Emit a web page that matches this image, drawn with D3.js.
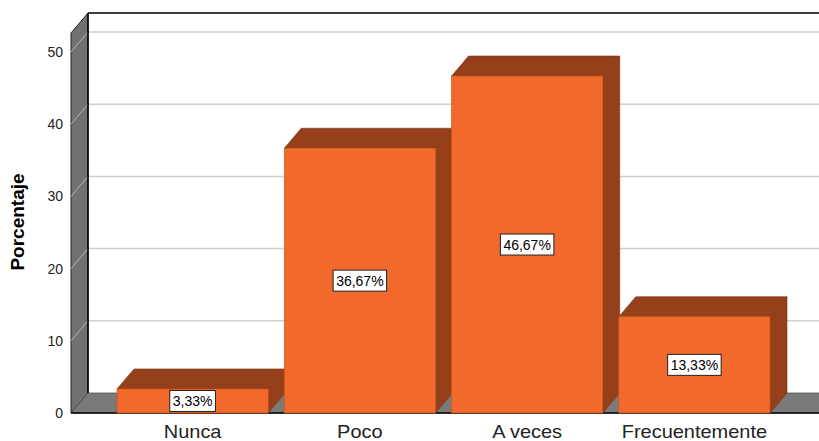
<!DOCTYPE html>
<html>
<head>
<meta charset="utf-8">
<script src="https://cdn.jsdelivr.net/npm/d3@7"></script>
<style>
  html, body { margin: 0; padding: 0; background: #fff; }
  svg { display: block; font-family: "Liberation Sans", Arial, sans-serif; }
</style>
</head>
<body>
<svg id="chart" width="819" height="441"></svg>
<script>
// Frequency distribution (percent of responses)
const categories = ["Nunca", "Poco", "A veces", "Frecuentemente"];
const values = [3.33, 36.67, 46.67, 13.33];
const valueLabels = ["3,33%", "36,67%", "46,67%", "13,33%"];
const yTicks = [0, 10, 20, 30, 40, 50];
const yTitle = "Porcentaje";

const svg = d3.select("#chart");

// 3D depth offset of the plot box and bars
const DX = 17, DY = 20;
const left = 71, right = 819;
const y = d3.scaleLinear().domain([0, 50]).range([413, 52]);
const yTop = 33;          // front top of the value axis wall
const x = d3.scaleBand().domain(categories).range([117, 770])
  .paddingInner(0.096).paddingOuter(0);

const line = d3.line();

// Back plane
svg.append("rect")
  .attr("x", left + DX).attr("y", yTop - DY)
  .attr("width", right - left).attr("height", y(0) - yTop)
  .attr("fill", "#fff");

// Gridlines on the back plane
svg.append("g").selectAll("line").data(yTicks.filter(d => d > 0)).join("line")
  .attr("x1", left + DX).attr("x2", right + DX)
  .attr("y1", d => y(d) - DY).attr("y2", d => y(d) - DY)
  .attr("stroke", "#cfcfcf").attr("stroke-width", 1.5);

// Top border of the back plane
svg.append("line")
  .attr("x1", left + DX).attr("x2", right + DX)
  .attr("y1", yTop - DY).attr("y2", yTop - DY)
  .attr("stroke", "#000").attr("stroke-width", 1.5);

// Left wall
svg.append("path")
  .attr("d", line([[left, yTop], [left + DX, yTop - DY], [left + DX, y(0) - DY], [left, y(0)]]) + "Z")
  .attr("fill", "#717171").attr("stroke", "#222").attr("stroke-width", 1);

// Gridline diagonals across the wall
svg.append("g").selectAll("line").data(yTicks.filter(d => d > 0)).join("line")
  .attr("x1", left).attr("x2", left + DX)
  .attr("y1", d => y(d)).attr("y2", d => y(d) - DY)
  .attr("stroke", "#b5b5b5").attr("stroke-width", 1);

// Floor
svg.append("path")
  .attr("d", line([[left, y(0)], [left + DX, y(0) - DY], [right + DX, y(0) - DY], [right, y(0)]]) + "Z")
  .attr("fill", "#7a7a7a").attr("stroke", "#555").attr("stroke-width", 0.8);
svg.append("line")
  .attr("x1", left).attr("x2", right).attr("y1", y(0)).attr("y2", y(0))
  .attr("stroke", "#000").attr("stroke-width", 1.5);
svg.append("line")
  .attr("x1", left + DX).attr("x2", left + DX).attr("y1", yTop - DY).attr("y2", y(0) - DY)
  .attr("stroke", "#000").attr("stroke-width", 1.5);

// Y axis tick labels
svg.append("g").selectAll("text").data(yTicks).join("text")
  .attr("x", 63).attr("y", d => y(d) + 5)
  .attr("text-anchor", "end").attr("font-size", 14).attr("fill", "#222")
  .text(d => d);

// Y axis title
svg.append("text")
  .attr("transform", "translate(24,222) rotate(-90)")
  .attr("text-anchor", "middle").attr("font-size", 19).attr("font-weight", "bold")
  .attr("fill", "#000").text(yTitle);

// Bars: side, top, front faces
const bars = svg.append("g").selectAll("g").data(categories).join("g");
const front = "#f2692c", shade = "#96401b", edge = "#7a3414";
bars.append("path")
  .attr("d", (c, i) => {
    const x1 = x(c) + x.bandwidth(), yt = y(values[i]), yb = y(0);
    return line([[x1, yt], [x1 + DX, yt - DY], [x1 + DX, yb - DY], [x1, yb]]) + "Z";
  })
  .attr("fill", shade).attr("stroke", edge).attr("stroke-width", 0.6);
bars.append("path")
  .attr("d", (c, i) => {
    const x0 = x(c), x1 = x0 + x.bandwidth(), yt = y(values[i]);
    return line([[x0, yt], [x0 + DX, yt - DY], [x1 + DX, yt - DY], [x1, yt]]) + "Z";
  })
  .attr("fill", shade).attr("stroke", edge).attr("stroke-width", 0.6);
bars.append("rect")
  .attr("x", c => x(c)).attr("width", x.bandwidth())
  .attr("y", (c, i) => y(values[i])).attr("height", (c, i) => y(0) - y(values[i]))
  .attr("fill", front).attr("stroke", "#c4541f").attr("stroke-width", 0.6);

// Value labels in boxes
bars.each(function (c, i) {
  const g = d3.select(this);
  const cx = x(c) + x.bandwidth() / 2;
  const cy = (y(values[i]) + y(0)) / 2;
  const t = g.append("text")
    .attr("x", cx).attr("y", cy + 5)
    .attr("text-anchor", "middle").attr("font-size", 14).attr("fill", "#000")
    .text(valueLabels[i]);
  const w = t.node().getComputedTextLength() + 6;
  g.insert("rect", "text")
    .attr("x", cx - w / 2).attr("y", cy - 10.5)
    .attr("width", w).attr("height", 21)
    .attr("fill", "#fff").attr("stroke", "#222").attr("stroke-width", 1);
});

// Category labels (slightly widened glyphs)
svg.append("g").selectAll("text").data(categories).join("text")
  .attr("transform", c => `translate(${x(c) + x.bandwidth() / 2},438) scale(1.11,1)`)
  .attr("text-anchor", "middle").attr("font-size", 18).attr("fill", "#222")
  .text(c => c);
</script>
</body>
</html>
